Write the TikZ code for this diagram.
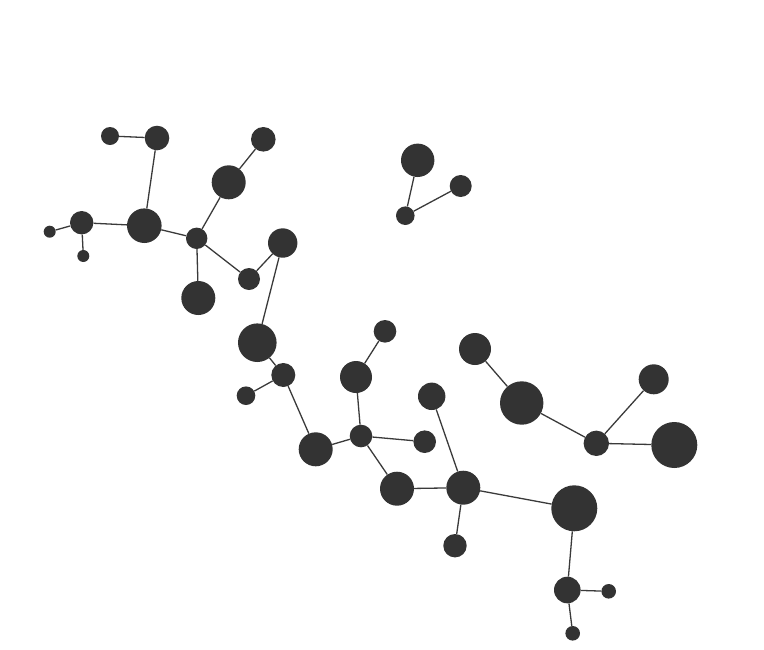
\documentclass[tikz,border=0pt]{standalone}
\usepackage{tikz}
\definecolor{atomfill}{HTML}{333333}
\definecolor{bondline}{HTML}{3A3A3A}
\tikzset{
  atom/.style={circle, fill=atomfill, draw=none, inner sep=0pt},
  bond/.style={draw=bondline, line width=1.3pt},
}
\begin{document}
\begin{tikzpicture}[x=1pt, y=-1pt]
    \useasboundingbox (0,0) rectangle (764,649);
    % atoms: name/x/y/radius
    \foreach \n/\x/\y/\r in {a1/110/136/9, a2/157/138/12.3, a3/81.7/222.7/11.7, a4/49.7/231.7/6,
        a5/83.3/256/6, a6/144.3/225.7/17.3, a7/196.7/238.3/10.7, a8/228.7/182.3/17,
        a9/263.3/139.3/12.3, a10/198.3/298/17, a11/249/279/11, a12/282.7/243/14.7,
        a13/257.3/342.7/19.3, a14/283.3/375/12, a15/246/395.7/9.3, a16/315.7/449.3/17,
        a17/361/436/11.3, a18/356/377/16, a19/385/331.3/11.3, a20/424.7/441.7/11.3,
        a21/397/488.7/17, a22/463.3/487.7/17, a23/431.7/396.3/13.7, a24/455/545.7/11.7,
        a25/574.3/508.3/23, a26/567.3/590/13.3, a27/608.7/591.3/7.3, a28/572.7/633.3/7.3,
        a29/417.7/160.3/16.7, a30/460.7/186/11, a31/405.3/215.7/9.3,
        a32/475/349/16, a33/521.7/403/21.7, a34/596.3/443.3/12.7, a35/653.7/379.3/15,
        a36/674.3/445/23}
      { \node[atom, minimum size=2*\r] (\n) at (\x,\y) {}; }

    % bonds
    \foreach \a/\b in {a1/a2, a2/a6, a3/a6, a3/a4, a3/a5, a6/a7, a7/a8, a8/a9, a7/a10,
        a7/a11, a11/a12, a12/a13, a13/a14, a14/a15, a14/a16, a16/a17, a17/a18, a18/a19,
        a17/a20, a17/a21, a21/a22, a22/a23, a22/a24, a22/a25, a25/a26, a26/a27, a26/a28,
        a29/a31, a31/a30, a32/a33, a33/a34, a34/a35, a34/a36}
      { \draw[bond] (\a) -- (\b); }
  \end{tikzpicture}
\end{document}
